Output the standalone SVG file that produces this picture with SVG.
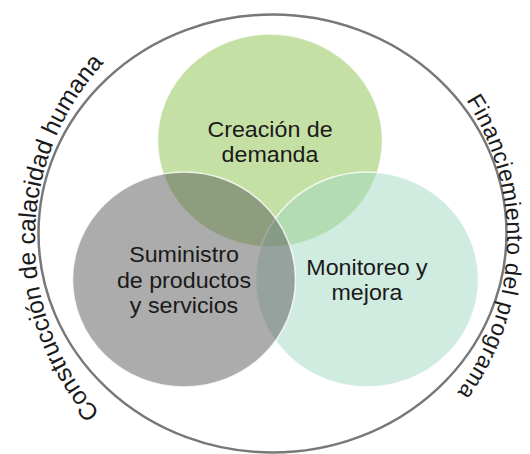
<svg xmlns="http://www.w3.org/2000/svg" xmlns:xlink="http://www.w3.org/1999/xlink" width="530" height="454" viewBox="0 0 530 454">
  <style>
    .lbl { font-family: "Liberation Sans", Arial, sans-serif; font-size: 22px; fill: #1a1a1a; text-anchor: middle; }
    .arc { font-family: "Liberation Sans", Arial, sans-serif; font-size: 24.5px; fill: #1a1a1a; }
    .arcR { font-family: "Liberation Sans", Arial, sans-serif; font-size: 23px; letter-spacing: 0.5px; fill: #1a1a1a; }
    .set { fill-opacity: 0.5; stroke: #ffffff; stroke-opacity: 0.8; stroke-width: 1.5; }
  </style>
  <defs>
    <path id="pathLeft" d="M128.6,440.7 A262,262 0 0 1 166,13.1" fill="none"/>
    <path id="pathRight" d="M446.2,72.9 A260,260 0 0 1 430.8,423.8" fill="none"/>
  </defs>
  <rect width="530" height="454" fill="#ffffff"/>
  <g id="outer">
    <ellipse cx="272.5" cy="233.5" rx="234" ry="219" fill="none" stroke="#787878" stroke-width="2.5"/>
    <text class="arc"><textPath xlink:href="#pathLeft" href="#pathLeft" startOffset="40">Construcción de calacidad humana</textPath></text>
    <text class="arcR"><textPath xlink:href="#pathRight" href="#pathRight" startOffset="33.6">Financiemiento del programa</textPath></text>
  </g>
  <g id="creacion">
    <ellipse class="set" cx="270" cy="140.5" rx="112.5" ry="106.5" fill="#8bc14b"/>
  </g>
  <g id="monitoreo">
    <ellipse class="set" cx="367" cy="279.5" rx="111.5" ry="107.5" fill="#a1d7c1"/>
  </g>
  <g id="suministro">
    <ellipse class="set" cx="184" cy="279.5" rx="111.5" ry="107.5" fill="#595959"/>
  </g>
  <g id="labels">
    <text class="lbl" transform="translate(270,137) scale(1.056,1)">Creación de</text>
    <text class="lbl" transform="translate(270,162) scale(1.056,1)">demanda</text>
    <text class="lbl" transform="translate(184,262) scale(1.056,1)">Suministro</text>
    <text class="lbl" transform="translate(184,288) scale(1.056,1)">de productos</text>
    <text class="lbl" transform="translate(184,313) scale(1.056,1)">y servicios</text>
    <text class="lbl" transform="translate(367,275) scale(1.056,1)">Monitoreo y</text>
    <text class="lbl" transform="translate(367,300) scale(1.056,1)">mejora</text>
  </g>
  <g id="connectors"></g>
</svg>
